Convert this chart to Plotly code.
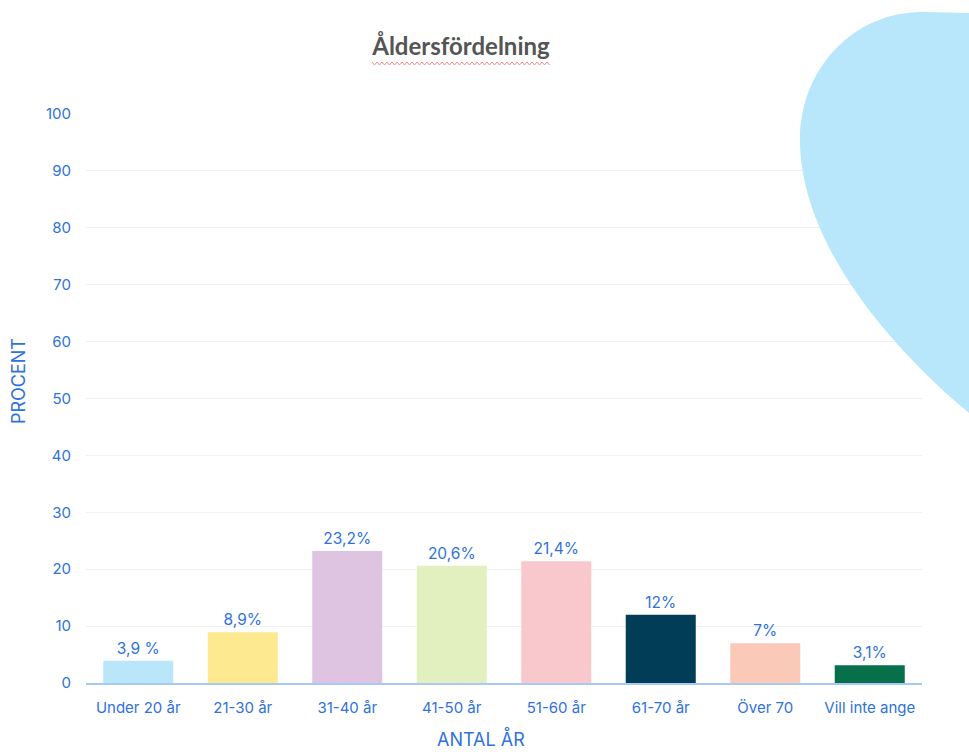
import plotly.graph_objects as go

categories = ["Under 20 år", "21-30 år", "31-40 år", "41-50 år", "51-60 år", "61-70 år", "Över 70", "Vill inte ange"]
values = [3.9, 8.9, 23.2, 20.6, 21.4, 12, 7, 3.1]
value_labels = ["3,9 %", "8,9%", "23,2%", "20,6%", "21,4%", "12%", "7%", "3,1%"]
bar_colors = ["#b9e7f9", "#fde98f", "#dfc4e2", "#e2f0c0", "#f9c8cc", "#023d57", "#fbc9b8", "#07704a"]
y_ticks = [0, 10, 20, 30, 40, 50, 60, 70, 80, 90, 100]

W, H = 969, 752
L, R, T, B = 86, 47, 114, 69
pw, ph = W - L - R, H - T - B

def px(x):
    return (x - L) / pw

def py(y):
    return (H - B - y) / ph

BLUE = "#2f72db"
FONT = "Inter, Roboto, sans-serif"

fig = go.Figure(go.Bar(
    x=categories, y=values, marker_color=bar_colors, marker_line_width=0,
    text=value_labels, textposition="outside", cliponaxis=False,
    textfont=dict(color=BLUE, size=15.5, family=FONT), hoverinfo="skip",
))

# decorative blob (top right)
blob = (f"M {px(1010)},{py(14)} L {px(925)},{py(12)} "
        f"C {px(858)},{py(10)} {px(800)},{py(65)} {px(800)},{py(140)} "
        f"C {px(800)},{py(230)} {px(870)},{py(330)} {px(969)},{py(413)} "
        f"L {px(1010)},{py(450)} Z")
shapes = [dict(type="path", xref="paper", yref="paper", path=blob,
               fillcolor="#b8e6fa", line=dict(width=0), layer="above")]

# wavy spell-check underline under title
pts = []
x = 372
i = 0
while x <= 550:
    yv = 62 if i % 2 == 0 else 65
    pts.append(f"{px(x)},{py(yv)}")
    x += 2.5
    i += 1
shapes.append(dict(type="path", xref="paper", yref="paper", path="M " + " L ".join(pts),
                   line=dict(color="#f08a8a", width=1)))

annotations = [
    dict(text="PROCENT", xref="paper", yref="paper", x=px(18), y=py(381), textangle=-90,
         showarrow=False, xanchor="center", yanchor="middle",
         font=dict(color=BLUE, size=18, family=FONT)),
    dict(text="ANTAL ÅR", xref="paper", yref="paper", x=px(481), y=py(738),
         showarrow=False, xanchor="center", yanchor="middle",
         font=dict(color=BLUE, size=18, family=FONT)),
]

fig.update_layout(
    width=W, height=H, margin=dict(l=L, r=R, t=T, b=B),
    paper_bgcolor="white", plot_bgcolor="white",
    bargap=0.33, showlegend=False,
    title=dict(text="<b>Åldersfördelning</b>", x=461 / W, xanchor="center",
               y=1 - 47 / H, yanchor="middle",
               font=dict(family="Lato, 'Open Sans', sans-serif", size=24, color="#555555")),
    shapes=shapes, annotations=annotations,
    xaxis=dict(showgrid=False, showline=True, linecolor="#a9c9f5", linewidth=1.5,
               tickfont=dict(color=BLUE, size=15, family=FONT), ticks="", ticklabelstandoff=10),
    yaxis=dict(range=[0, 100], tickvals=y_ticks, showgrid=True, gridcolor="#f0f0f0",
               zeroline=False, showline=False, ticks="", ticklabelstandoff=14,
               tickfont=dict(color=BLUE, size=15, family=FONT)),
)

fig.write_html("out.html", config={"displayModeBar": False},
               post_script="document.body.style.margin='0';document.body.style.overflow='hidden';")
